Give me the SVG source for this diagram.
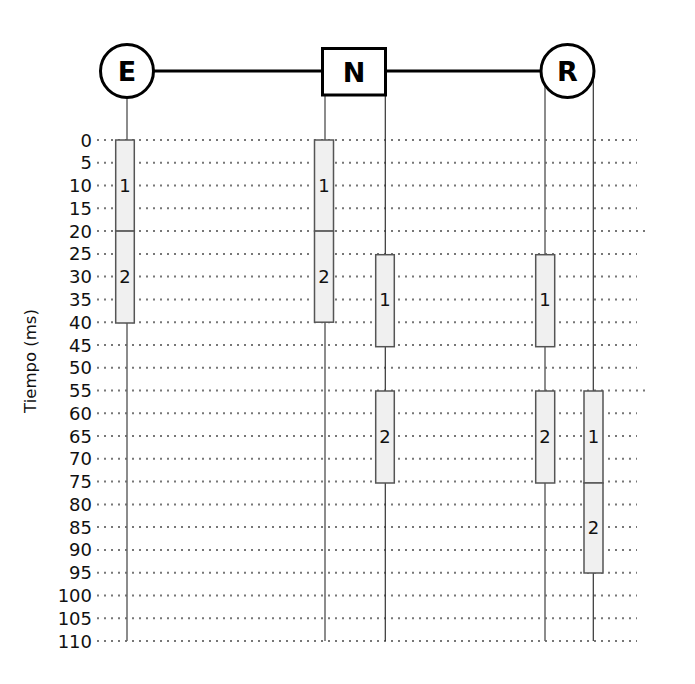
<svg xmlns="http://www.w3.org/2000/svg" width="695" height="684" viewBox="0 0 695 684">
<style>
.grid{stroke:#777;stroke-width:2;stroke-dasharray:2,5;fill:none}
.tick{font-family:"DejaVu Sans",sans-serif;font-size:18px;fill:#111;text-anchor:end}
.life1{stroke:#666;stroke-width:1.5;fill:none}
.life2{stroke:#333;stroke-width:1.2;fill:none}
.box{fill:#f0f0f0;stroke:#555;stroke-width:1.5}
.bl{font-family:"DejaVu Sans",sans-serif;font-size:18px;fill:#111;text-anchor:middle}
.node{fill:#fff;stroke:#000;stroke-width:3}
.nl{font-family:"DejaVu Sans",sans-serif;font-size:27px;font-weight:bold;fill:#000;text-anchor:middle}
.hdr{stroke:#000;stroke-width:3;fill:none}
</style>
<rect width="695" height="684" fill="#fff"/>
<g id="grid">
<line class="grid" x1="97" y1="140" x2="637" y2="140"/>
<line class="grid" x1="97" y1="162.8" x2="637" y2="162.8"/>
<line class="grid" x1="97" y1="185.5" x2="637" y2="185.5"/>
<line class="grid" x1="97" y1="208.3" x2="637" y2="208.3"/>
<line class="grid" x1="97" y1="231.1" x2="650" y2="231.1"/>
<line class="grid" x1="97" y1="253.9" x2="637" y2="253.9"/>
<line class="grid" x1="97" y1="276.6" x2="637" y2="276.6"/>
<line class="grid" x1="97" y1="299.4" x2="637" y2="299.4"/>
<line class="grid" x1="97" y1="322.2" x2="637" y2="322.2"/>
<line class="grid" x1="97" y1="345" x2="637" y2="345"/>
<line class="grid" x1="97" y1="367.7" x2="637" y2="367.7"/>
<line class="grid" x1="97" y1="390.5" x2="650" y2="390.5"/>
<line class="grid" x1="97" y1="413.3" x2="637" y2="413.3"/>
<line class="grid" x1="97" y1="436" x2="637" y2="436"/>
<line class="grid" x1="97" y1="458.8" x2="637" y2="458.8"/>
<line class="grid" x1="97" y1="481.6" x2="637" y2="481.6"/>
<line class="grid" x1="97" y1="504.4" x2="637" y2="504.4"/>
<line class="grid" x1="97" y1="527.1" x2="637" y2="527.1"/>
<line class="grid" x1="97" y1="549.9" x2="637" y2="549.9"/>
<line class="grid" x1="97" y1="572.7" x2="637" y2="572.7"/>
<line class="grid" x1="97" y1="595.5" x2="637" y2="595.5"/>
<line class="grid" x1="97" y1="618.2" x2="637" y2="618.2"/>
<line class="grid" x1="97" y1="641" x2="637" y2="641"/>
</g>
<g id="axis">
<text class="tick" x="92" y="146.5">0</text>
<text class="tick" x="92" y="169.3">5</text>
<text class="tick" x="92" y="192">10</text>
<text class="tick" x="92" y="214.8">15</text>
<text class="tick" x="92" y="237.6">20</text>
<text class="tick" x="92" y="260.4">25</text>
<text class="tick" x="92" y="283.1">30</text>
<text class="tick" x="92" y="305.9">35</text>
<text class="tick" x="92" y="328.7">40</text>
<text class="tick" x="92" y="351.5">45</text>
<text class="tick" x="92" y="374.2">50</text>
<text class="tick" x="92" y="397">55</text>
<text class="tick" x="92" y="419.8">60</text>
<text class="tick" x="92" y="442.5">65</text>
<text class="tick" x="92" y="465.3">70</text>
<text class="tick" x="92" y="488.1">75</text>
<text class="tick" x="92" y="510.9">80</text>
<text class="tick" x="92" y="533.6">85</text>
<text class="tick" x="92" y="556.4">90</text>
<text class="tick" x="92" y="579.2">95</text>
<text class="tick" x="92" y="602">100</text>
<text class="tick" x="92" y="624.7">105</text>
<text class="tick" x="92" y="647.5">110</text>
<text font-family="DejaVu Sans, sans-serif" font-size="16.5" fill="#111" text-anchor="middle" transform="translate(36,361) rotate(-90)">Tiempo (ms)</text>
</g>
<g id="connectors">
<line class="hdr" x1="127" y1="71" x2="567" y2="71"/>
<line class="life1" x1="127" y1="98" x2="127" y2="641"/>
<line class="life1" x1="325" y1="95" x2="325" y2="641"/>
<line class="life2" x1="385.3" y1="95" x2="385.3" y2="641"/>
<line class="life1" x1="545" y1="80" x2="545" y2="641"/>
<line class="life2" x1="593.3" y1="80" x2="593.3" y2="641"/>
</g>
<g id="E">
<circle class="node" cx="127" cy="71" r="26.5"/>
<text class="nl" x="127" y="81">E</text>
</g>
<g id="N">
<rect class="node" x="322.5" y="48.5" width="63" height="46.5"/>
<text class="nl" x="354" y="81.5">N</text>
</g>
<g id="R">
<circle class="node" cx="567.5" cy="71" r="26.5"/>
<text class="nl" x="567.5" y="81">R</text>
</g>
<g id="E-boxes">
<rect class="box" x="115.7" y="140" width="18.6" height="91.1"/>
<text class="bl" x="125" y="192">1</text>
<rect class="box" x="115.7" y="231.1" width="18.6" height="91.9"/>
<text class="bl" x="125" y="283">2</text>
</g>
<g id="N-boxes">
<rect class="box" x="314.5" y="140" width="19" height="91.1"/>
<text class="bl" x="324" y="192">1</text>
<rect class="box" x="314.5" y="231.1" width="19" height="91.1"/>
<text class="bl" x="324" y="283">2</text>
<rect class="box" x="375.7" y="254.7" width="18.6" height="92"/>
<text class="bl" x="385" y="306">1</text>
<rect class="box" x="375.7" y="391" width="18.6" height="92"/>
<text class="bl" x="385" y="442.5">2</text>
</g>
<g id="R-boxes">
<rect class="box" x="535.7" y="254.7" width="19" height="92"/>
<text class="bl" x="545" y="306">1</text>
<rect class="box" x="535.7" y="391" width="19" height="92"/>
<text class="bl" x="545" y="442.5">2</text>
<rect class="box" x="584" y="391" width="19" height="92"/>
<text class="bl" x="593.5" y="442.5">1</text>
<rect class="box" x="584" y="483" width="19" height="90"/>
<text class="bl" x="593.5" y="533.6">2</text>
</g>
</svg>
